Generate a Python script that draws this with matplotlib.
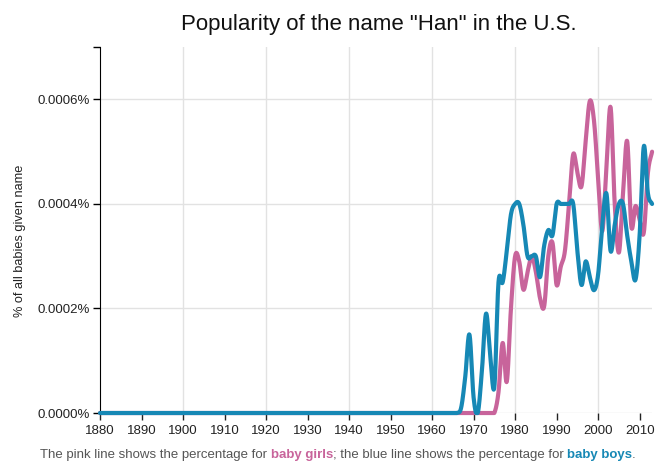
import numpy as np
import matplotlib
matplotlib.use("Agg")
import matplotlib.pyplot as plt
from matplotlib.offsetbox import TextArea, HPacker, AnchoredOffsetbox

plt.rcParams['font.family'] = ['Liberation Sans', 'DejaVu Sans']

# share of babies named "Han" (in percent), one value per year 1880-2013
years = list(range(1880, 2014))

girls = [0.0] * 95 + [
    0.0, 0.00004, 0.000134, 0.00006, 0.0002,            # 1975-1979
    0.0003, 0.00029, 0.000236, 0.00027, 0.0003,         # 1980-1984
    0.00027, 0.00022, 0.000204, 0.0003, 0.000326,       # 1985-1989
    0.000245, 0.00028, 0.00031, 0.0004, 0.000495,       # 1990-1994
    0.00046, 0.000434, 0.00052, 0.000597, 0.00056,      # 1995-1999
    0.00045, 0.000348, 0.00047, 0.000585, 0.0004,       # 2000-2004
    0.000307, 0.00042, 0.00052, 0.000357, 0.000396,     # 2005-2009
    0.00037, 0.000345, 0.00046, 0.0005,                 # 2010-2013
]

boys = [0.0] * 87 + [
    0.00001, 0.00007, 0.00015,                          # 1967-1969
    0.00003, 0.0, 0.00008, 0.00019, 0.00011,            # 1970-1974
    0.00005, 0.00025, 0.00025, 0.00031, 0.00038,        # 1975-1979
    0.0004, 0.0004, 0.00036, 0.0003, 0.0003,            # 1980-1984
    0.0003, 0.00026, 0.00032, 0.00035, 0.00034,         # 1985-1989
    0.0004, 0.0004, 0.0004, 0.0004, 0.0004,             # 1990-1994
    0.00031, 0.000245, 0.00029, 0.00026, 0.000235,      # 1995-1999
    0.000265, 0.00036, 0.00042, 0.00031, 0.00036,       # 2000-2004
    0.0004, 0.0004, 0.00034, 0.00029, 0.000255,         # 2005-2009
    0.00034, 0.00051, 0.00042, 0.0004,                  # 2010-2013
]

y_ticks = [0.0, 0.0002, 0.0004, 0.0006]
x_ticks = list(range(1880, 2011, 10))

PINK = '#c8649b'
BLUE = '#1688b5'


def cardinal(x, y, n=20):
    # Catmull-Rom curve through the points (d3 cardinal line)
    x = np.asarray(x, float)
    y = np.asarray(y, float)
    yp = np.concatenate([[y[0]], y, [y[-1]]])
    m = (yp[2:] - yp[:-2]) / 2.0
    m[0] = y[1] - y[0]
    m[-1] = y[-1] - y[-2]
    xs, ys = [], []
    t = np.linspace(0, 1, n, endpoint=False)
    h00 = 2 * t**3 - 3 * t**2 + 1
    h10 = t**3 - 2 * t**2 + t
    h01 = -2 * t**3 + 3 * t**2
    h11 = t**3 - t**2
    for i in range(len(x) - 1):
        h = x[i + 1] - x[i]
        xs.append(x[i] + t * h)
        ys.append(h00 * y[i] + h10 * m[i] + h01 * y[i + 1] + h11 * m[i + 1])
    xs.append([x[-1]])
    ys.append([y[-1]])
    return np.concatenate(xs), np.maximum(np.concatenate(ys), 0)


fig = plt.figure(figsize=(6.6, 4.67), dpi=100)
ax = fig.add_axes([0.1515, 0.1156, 0.8365, 0.7834])

gx, gy = cardinal(years, girls)
bx, by = cardinal(years, boys)
ax.plot(gx, gy, color=PINK, lw=3, solid_capstyle='round', zorder=3, clip_on=False)
ax.plot(bx, by, color=BLUE, lw=3, solid_capstyle='round', zorder=4, clip_on=False)

ax.set_xlim(1880, 2013)
ax.set_ylim(0, 0.0007)

for yv in y_ticks:
    ax.axhline(yv, color='#e2e2e2', lw=1, zorder=1)
for xv in range(1900, 2011, 20):
    ax.axvline(xv, color='#e2e2e2', lw=1, zorder=1)

ax.set_yticks(y_ticks)
ax.set_yticklabels(['%.4f%%' % v for v in y_ticks])
ax.set_yticks([0.0007], minor=True)
ax.set_xticks(x_ticks)
ax.set_xticklabels([str(v) for v in x_ticks])
ax.tick_params(axis='both', which='both', labelsize=9.5, colors='#222222', length=5, width=1)
ax.tick_params(axis='y', which='both', colors='black', labelcolor='#222222', pad=2)

for s in ['top', 'right', 'bottom']:
    ax.spines[s].set_visible(False)
ax.spines['left'].set_color('black')

ax.set_ylabel('% of all babies given name', fontsize=9.2, color='#222222')
ax.yaxis.set_label_coords(-0.134, 0.47)

fig.text(0.574, 0.948, 'Popularity of the name "Han" in the U.S.', ha='center', va='center',
         fontsize=16, color='#111111')

cap = 9.5
parts = [
    TextArea('The pink line shows the percentage for ', textprops=dict(color='#555555', size=cap)),
    TextArea('baby girls', textprops=dict(color=PINK, size=cap, weight='bold')),
    TextArea('; the blue line shows the percentage for ', textprops=dict(color='#555555', size=cap)),
    TextArea('baby boys', textprops=dict(color=BLUE, size=cap, weight='bold')),
    TextArea('.', textprops=dict(color='#555555', size=cap)),
]
box = HPacker(children=parts, pad=0, sep=0, align='baseline')
anchored = AnchoredOffsetbox(loc='center', child=box, frameon=False,
                             bbox_to_anchor=(0.512, 0.026), bbox_transform=fig.transFigure, pad=0)
fig.add_artist(anchored)

fig.savefig('out.png', dpi=100)
